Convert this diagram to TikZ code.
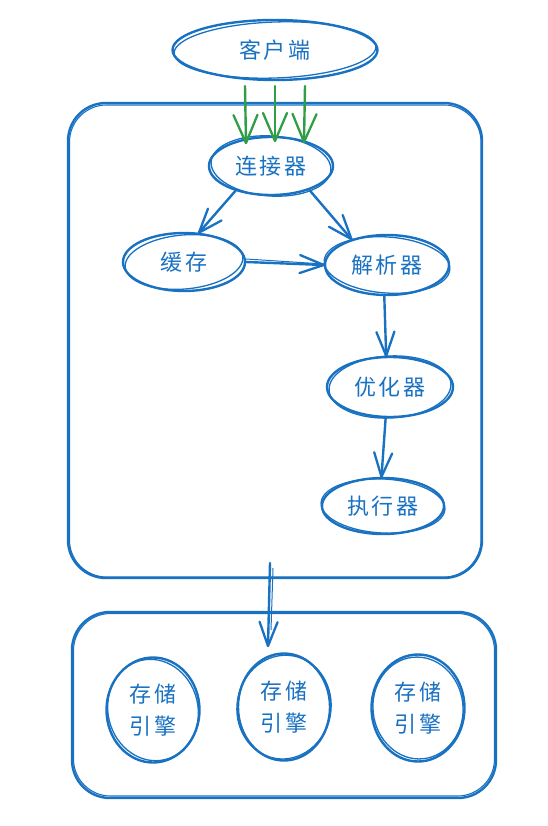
\documentclass[tikz,border=0pt]{standalone}
\usepackage{fontspec}
\newfontfamily\cjk[LetterSpace=10]{Noto Sans CJK SC}
\usetikzlibrary{shapes.geometric,decorations.markings}
\definecolor{sb}{HTML}{1971C2}
\definecolor{sg}{HTML}{2F9E44}
\newcommand\roughel[4]{\draw[rough,rotate around={#4:(#1.center)}] (#1.center) ellipse [x radius=#2, y radius=#3];}
\begin{document}
\begin{tikzpicture}[x=1pt,y=-1pt,
  el/.style={ellipse,draw=sb,line width=2.4pt,inner sep=0pt,text=sb,
    font=\cjk\fontsize{22}{32}\selectfont,align=center},
  rough/.style={draw=sb,line width=1.3pt},
  box/.style={draw=sb,line width=2.4pt,rounded corners=38pt,inner sep=0pt},
  vhead/.style n args={3}{postaction={decorate,decoration={markings,
    mark=at position 1 with {\draw[#1,line width=2.3pt,line cap=round,line join=round]
      (-#2,-#3) -- (0pt,0pt) -- (-#2,#3);}}}},
  arr/.style={draw=sb,line width=2.4pt,line cap=round,vhead={sb}{24pt}{9pt}},
  garr/.style={draw=sg,line width=2.4pt,line cap=round,vhead={sg}{28pt}{12pt}}]
\useasboundingbox (0,0) rectangle (547,826);
% boxes
\node[box,minimum width=414pt,minimum height=475pt] (srv) at (275,340.5) {};
\draw[sb,line width=1.1pt,rounded corners=37pt] (69.5,105) rectangle (481,577);
\node[box,minimum width=424pt,minimum height=186pt] (eng) at (284,705) {};
\draw[sb,line width=1.1pt,rounded corners=37pt] (73.5,613.5) rectangle (494.5,796);
% nodes
\node[el,minimum width=205pt,minimum height=60pt] (cli) at (275,50) {客户端};
\roughel{cli}{101}{28}{2}
\node[el,minimum width=124pt,minimum height=58pt] (con) at (271,166) {连接器};
\roughel{con}{60}{30}{-4}
\node[el,minimum width=122pt,minimum height=58pt] (cache) at (184,262) {缓存};
\roughel{cache}{59}{27}{5}
\node[el,minimum width=124pt,minimum height=60pt] (par) at (387,265) {解析器};
\roughel{par}{63}{28}{-4}
\node[el,minimum width=126pt,minimum height=60pt] (opt) at (390,387) {优化器};
\roughel{opt}{61}{31}{3}
\node[el,minimum width=122pt,minimum height=56pt] (exe) at (383,506) {执行器};
\roughel{exe}{62}{27}{-3}
\node[el,minimum width=93pt,minimum height=105pt] (s1) at (153,710) {存储\\引擎};
\roughel{s1}{45}{51}{14}
\node[el,minimum width=92pt,minimum height=107pt] (s2) at (284,707) {存储\\引擎};
\roughel{s2}{47}{52}{-10}
\node[el,minimum width=93pt,minimum height=107pt] (s3) at (418,708) {存储\\引擎};
\roughel{s3}{45}{51}{6}
% green arrows
\coordinate (g1s) at (245,86); \coordinate (g1e) at (246,143);
\coordinate (g2s) at (275,86); \coordinate (g2e) at (275,141);
\coordinate (g3s) at (305,86); \coordinate (g3e) at (304,142);
\draw[garr] (g1s) -- (g1e);
\draw[garr] (g2s) -- (g2e);
\draw[garr] (g3s) -- (g3e);
% blue arrows
\draw[arr] (con.-145) -- (cache.63);
\draw[arr] (con.-32) -- (par.144);
\draw[arr] (cache.east) -- (par.west);
\draw[sb,line width=1pt] ([yshift=3pt]cache.east) -- ([yshift=1pt]par.west);
\draw[arr] (par.265) -- (opt.97);
\draw[arr] (opt.262) -- (exe.93);
\coordinate (bs) at (270,563); \coordinate (be) at (268,646);
\draw[arr] (bs) -- (be);
\draw[sb,line width=1pt] (273,568) -- (271,630);
\end{tikzpicture}
\end{document}
